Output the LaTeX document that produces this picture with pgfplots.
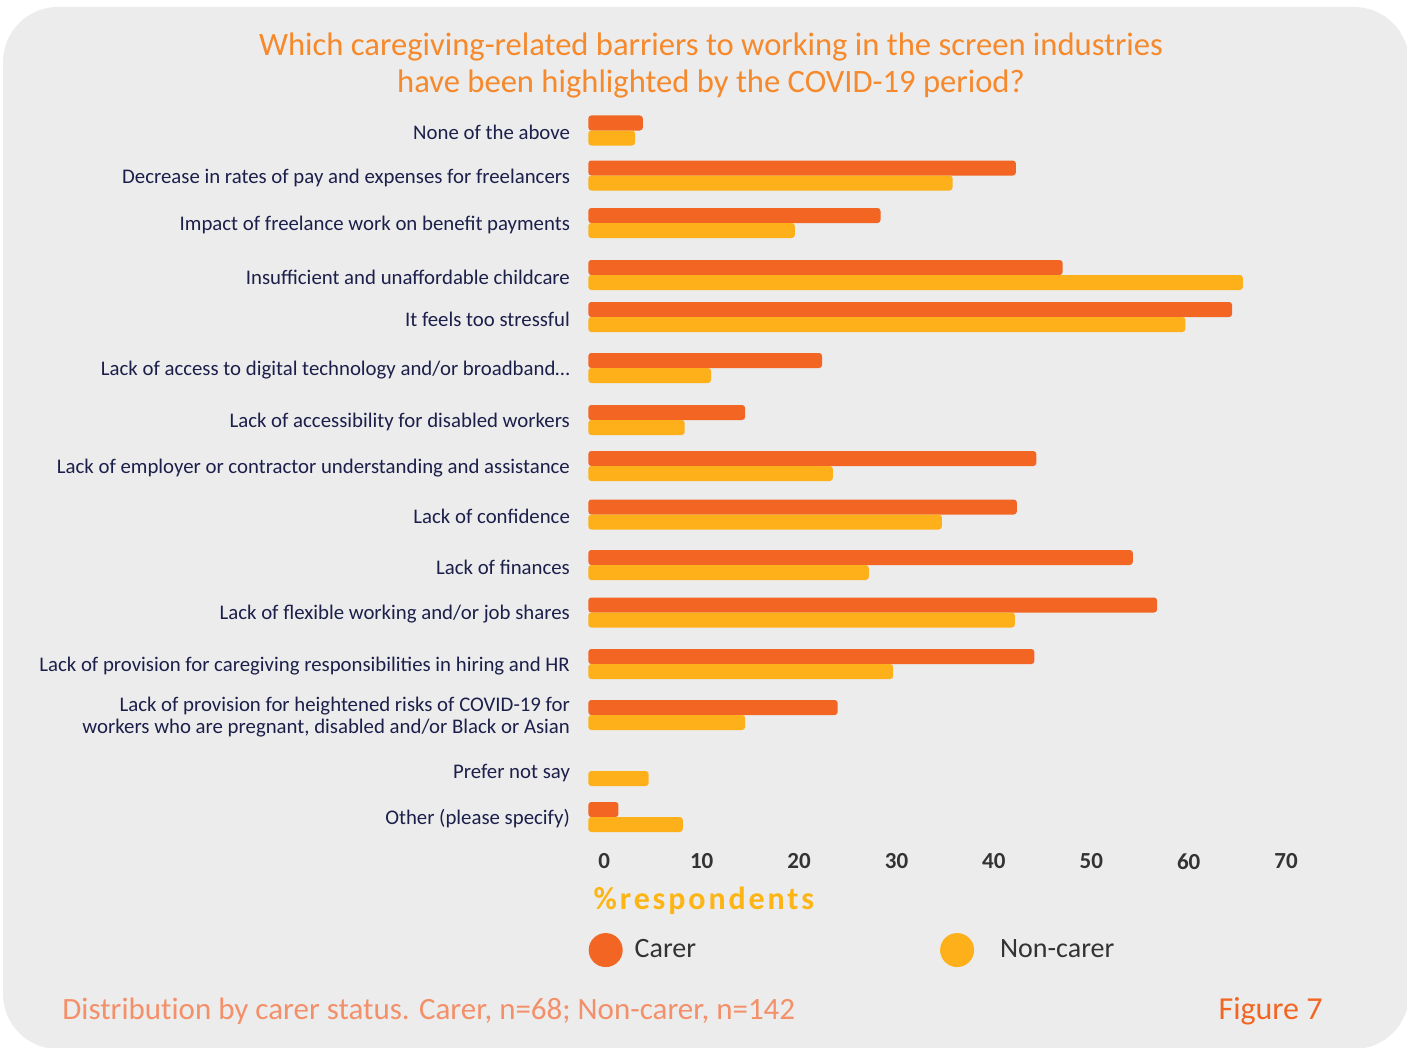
\documentclass[border=0pt]{standalone}
\usepackage{fontspec}
\setmainfont{Carlito}
\newfontfamily\spacedfont{Carlito}[LetterSpace=9]
\usepackage{pgfplots}
\pgfplotsset{compat=1.18}
\usepackage{pgfplotstable}
\definecolor{carer}{HTML}{F26522}
\definecolor{noncarer}{HTML}{FDB019}
\definecolor{card}{HTML}{ECECEC}
\definecolor{navy}{HTML}{1C1F4A}
\definecolor{titleorange}{HTML}{F6892B}
\definecolor{footorange}{HTML}{F3906A}
\definecolor{respyellow}{HTML}{FDB515}
\definecolor{tickgray}{HTML}{333333}

% pos = vertical position of the category (pixel rows, negative = downwards)
\pgfplotstableread{
pos carer noncarer
-130.5 5.6 4.8
-175.5 43.9 37.4
-223 30.0 21.2
-275 48.7 67.2
-317 66.1 61.3
-368 24.0 12.6
-420 16.1 9.9
-466 46.0 25.1
-514.5 44.0 36.3
-565 55.9 28.8
-612.5 58.4 43.8
-664 45.8 31.3
-715 25.6 16.1
-771 nan 6.2
-817 3.1 9.7
}\datatable

\begin{document}
\begin{tikzpicture}[x=0.5pt,y=0.5pt]
\useasboundingbox (0,0) rectangle (1407,-1048);
\fill[white] (0,0) rectangle (1407,-1048);
\fill[card, rounded corners=27.5pt] (3,-7) rectangle (1409,-1049);

\node[align=center, text=titleorange, font=\fontsize{16.3}{18.5}\selectfont] at (711,-65)
  {Which caregiving-related barriers to working in the screen industries\\have been highlighted by the COVID-19 period?};

\begin{axis}[
  at={(604,-845)}, anchor=south west,
  scale only axis, width=340.9pt, height=372.5pt,
  xmin=0, xmax=70, ymin=-845, ymax=-100,
  xbar, bar width=15,
  axis line style={draw=none}, major tick length=0pt, tick style={draw=none},
  xtick={0,10,20,30,40,50,60,70},
  ytick={-130.5,-175.5,-223,-275,-317,-368,-420,-466,-514.5,-565,-612.5,-664,-715,-771,-817},
  yticklabels={{None of the above},
    {Decrease in rates of pay and expenses for freelancers},
    {Impact of freelance work on benefit payments},
    {Insufficient and unaffordable childcare},
    {It feels too stressful},
    {Lack of access to digital technology and/or broadband\ldots},
    {Lack of accessibility for disabled workers},
    {Lack of employer or contractor understanding and assistance},
    {Lack of confidence},
    {Lack of finances},
    {Lack of flexible working and/or job shares},
    {Lack of provision for caregiving responsibilities in hiring and HR},
    {Lack of provision for heightened risks of COVID-19 for\\workers who are pregnant, disabled and/or Black or Asian},
    {Prefer not say},
    {Other (please specify)}},
  /pgf/number format/assume math mode=true,
  xticklabel style={font=\bfseries\fontsize{11.5}{12}\selectfont, text=tickgray, anchor=north, inner sep=0pt, yshift=-4pt, xshift=8pt},
  yticklabel style={font=\fontsize{10.4}{11}\selectfont, text=navy, align=right, anchor=east, inner sep=0pt, xshift=-9pt, yshift=-1pt},
  xlabel={\spacedfont\bfseries\%respondents},
  xlabel style={at={(axis description cs:0,-0.0752)}, anchor=west, inner sep=0pt, xshift=2.5pt, font=\fontsize{16}{18}\selectfont, text=respyellow},
  legend style={at={(axis description cs:0,-0.141)}, anchor=west, draw=none, fill=none, inner sep=0pt,
    legend columns=2, font=\fontsize{14}{16}\selectfont, text=tickgray,
    nodes={inner sep=0pt},
    /tikz/every even column/.append style={column sep=122pt}},
  legend image code/.code={\fill (8.5pt,0pt) circle (8.5pt); \path (23pt,0pt);},
  clip=false,
]
\addplot[fill=carer, draw=none, rounded corners=1.5pt, bar shift=7.5] table[x=carer, y=pos] {\datatable};
\addplot[fill=noncarer, draw=none, rounded corners=1.5pt, bar shift=-7.5] table[x=noncarer, y=pos] {\datatable};
\addlegendentry{Carer}
\addlegendentry{\hspace{7pt}Non-carer}
\end{axis}

\node[anchor=west, inner sep=0pt, text=footorange, font=\fontsize{15.5}{17}\selectfont] at (62,-1011)
  {Distribut\kern0pt ion by carer status. Carer, n=68; Non-carer, n=142};
\node[anchor=east, inner sep=0pt, text=carer, font=\fontsize{16}{18}\selectfont] at (1323,-1011) {Figure 7};
\end{tikzpicture}
\end{document}
